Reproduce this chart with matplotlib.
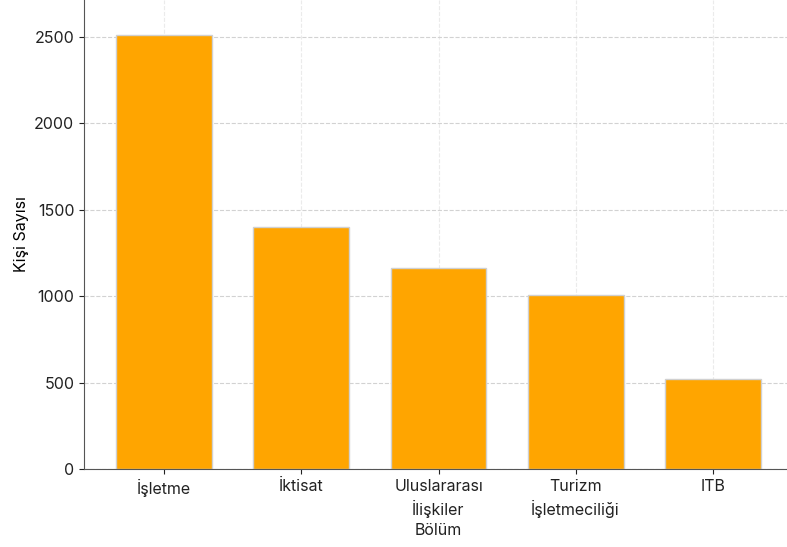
import matplotlib
matplotlib.use("Agg")
import matplotlib.pyplot as plt

categories = ["İşletme", "İktisat", "Uluslararası\nİlişkiler\nBölüm", "Turizm\nİşletmeciliği", "ITB"]
counts = [2510, 1400, 1165, 1005, 520]

plt.rcParams['font.family'] = ['Inter', 'DejaVu Sans']

W, H = 787, 547
fig = plt.figure(figsize=(W / 100, H / 100), dpi=100)
left, right, bottom, top = 84, 793, 469, 0
ax = fig.add_axes([left / W, (H - bottom) / H, (right - left) / W, (bottom - top) / H])

ax.bar(categories, counts, width=0.7, color='#FFA500', edgecolor='#d0d0d0', linewidth=1, zorder=2)
ax.set_xlim(-0.585, 4.585)
ax.set_ylim(0, 2714)
ax.set_yticks([0, 500, 1000, 1500, 2000, 2500])
ax.set_ylabel('Kişi Sayısı', fontsize=11.5)
ax.tick_params(labelsize=11.5, colors='#222222')
for lbl in ax.get_xticklabels():
    lbl.set_linespacing(1.4)
ax.yaxis.grid(True, linestyle='--', color='#d2d2d2', linewidth=0.8)
ax.xaxis.grid(True, linestyle='--', color='#ebebeb', linewidth=0.8)
ax.set_axisbelow(True)
for s in ['top', 'right']:
    ax.spines[s].set_visible(False)
for s in ['left', 'bottom']:
    ax.spines[s].set_color('#555555')

fig.savefig('out.png', dpi=100)
